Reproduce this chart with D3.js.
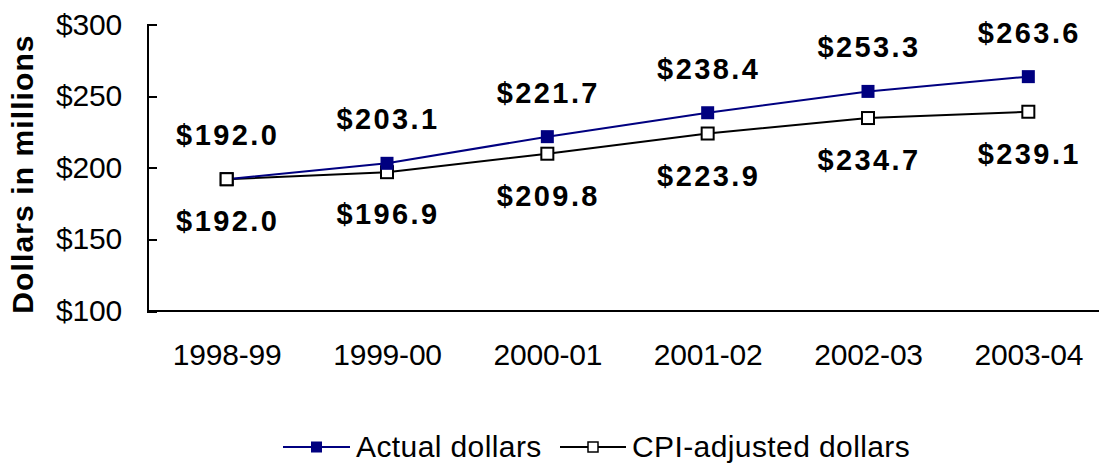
<!DOCTYPE html>
<html>
<head>
<meta charset="utf-8">
<title>Dollars in millions</title>
<script src="https://d3js.org/d3.v7.min.js"></script>
<style>
  html, body { margin: 0; padding: 0; background: #fff; }
  svg { display: block; }
  text { font-family: "Liberation Sans", Arial, sans-serif; fill: #000; }
  .axis path, .axis line { stroke: #000; stroke-width: 2px; shape-rendering: crispEdges; }
  .axis text { font-size: 30px; letter-spacing: -0.2px; }
  .lbl { font-size: 29px; font-weight: bold; letter-spacing: 2.4px; }
  .legend text { font-size: 30px; letter-spacing: 0.4px; }
</style>
</head>
<body>
<script>
var years = ["1998-99", "1999-00", "2000-01", "2001-02", "2002-03", "2003-04"];
var actual = [192.0, 203.1, 221.7, 238.4, 253.3, 263.6];
var cpi = [192.0, 196.9, 209.8, 223.9, 234.7, 239.1];
var yTicks = [100, 150, 200, 250, 300];
var seriesNames = ["Actual dollars", "CPI-adjusted dollars"];

var W = 1099, H = 464;
var svg = d3.select("body").append("svg").attr("width", W).attr("height", H);

var x = d3.scalePoint().domain(years).range([146.5, 1108.5]).padding(0.5);
var y = d3.scaleLinear().domain([100, 300]).range([311, 24.5]);

// y axis, ticks pointing inward
svg.append("g")
    .attr("class", "axis")
    .attr("transform", "translate(147,0)")
    .call(d3.axisLeft(y).tickValues(yTicks).tickSize(-10).tickSizeOuter(0).tickPadding(25)
        .tickFormat(function (d) { return "$" + d; }));

// x axis, no tick marks
var xa = svg.append("g")
    .attr("class", "axis")
    .attr("transform", "translate(0,311)")
    .call(d3.axisBottom(x).tickSize(0).tickSizeOuter(0).tickPadding(33));
xa.select(".domain").attr("d", "M147,0H" + W);

svg.append("text")
    .attr("transform", "translate(33,174) rotate(-90)")
    .attr("text-anchor", "middle")
    .style("font-size", "30px")
    .style("font-weight", "bold")
    .style("letter-spacing", "1.1px")
    .text("Dollars in millions");

var line = d3.line()
    .x(function (d, i) { return x(years[i]); })
    .y(function (d) { return y(d); });

// CPI series
svg.append("path").datum(cpi)
    .attr("d", line).attr("fill", "none").attr("stroke", "#000").attr("stroke-width", 2);
svg.selectAll(".m-cpi").data(cpi).enter().append("rect")
    .attr("x", function (d, i) { return x(years[i]) - 6; })
    .attr("y", function (d) { return y(d) - 6; })
    .attr("width", 12).attr("height", 12)
    .attr("fill", "#fff").attr("stroke", "#000").attr("stroke-width", 2);

// Actual series
svg.append("path").datum(actual)
    .attr("d", line).attr("fill", "none").attr("stroke", "#000080").attr("stroke-width", 2);
svg.selectAll(".m-act").data(actual).enter().append("rect")
    .attr("x", function (d, i) { return x(years[i]) - 6.5; })
    .attr("y", function (d) { return y(d) - 6.5; })
    .attr("width", 13).attr("height", 13)
    .attr("fill", "#000080");

// cpi first point drawn on top, as in the reference
svg.append("rect")
    .attr("x", x(years[0]) - 6).attr("y", y(cpi[0]) - 6)
    .attr("width", 12).attr("height", 12)
    .attr("fill", "#fff").attr("stroke", "#000").attr("stroke-width", 2);

// data labels
svg.selectAll(".la").data(actual).enter().append("text")
    .attr("class", "lbl")
    .attr("x", function (d, i) { return x(years[i]) + 1; })
    .attr("y", function (d) { return y(d) - 34; })
    .attr("text-anchor", "middle")
    .text(function (d) { return "$" + d.toFixed(1); });
svg.selectAll(".lc").data(cpi).enter().append("text")
    .attr("class", "lbl")
    .attr("x", function (d, i) { return x(years[i]) + 1; })
    .attr("y", function (d) { return y(d) + 52; })
    .attr("text-anchor", "middle")
    .text(function (d) { return "$" + d.toFixed(1); });

// legend
var lg = svg.append("g").attr("class", "legend");
var items = [
    { name: seriesNames[0], x0: 283, x1: 350, color: "#000080", fill: "#000080", s: 11 },
    { name: seriesNames[1], x0: 560, x1: 626, color: "#000", fill: "#fff", s: 10 }
];
items.forEach(function (it) {
    var cx = (it.x0 + it.x1) / 2;
    lg.append("line").attr("x1", it.x0).attr("x2", it.x1).attr("y1", 447).attr("y2", 447)
        .attr("stroke", it.color).attr("stroke-width", 2);
    lg.append("rect").attr("x", cx - it.s / 2).attr("y", 447 - it.s / 2)
        .attr("width", it.s).attr("height", it.s)
        .attr("fill", it.fill).attr("stroke", it.color).attr("stroke-width", it.fill === "#fff" ? 1.5 : 0);
    lg.append("text").attr("x", it.x1 + 6).attr("y", 457).text(it.name);
});
</script>
</body>
</html>
